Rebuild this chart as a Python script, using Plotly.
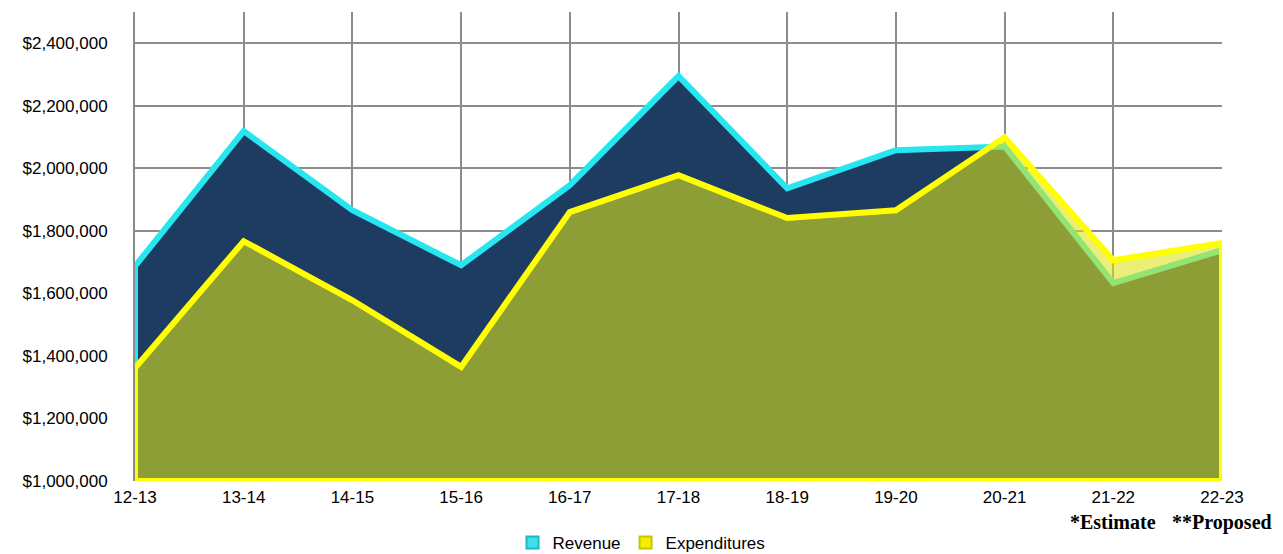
import plotly.graph_objects as go

categories = ["12-13", "13-14", "14-15", "15-16", "16-17", "17-18",
              "18-19", "19-20", "20-21", "21-22", "22-23"]
revenue = [1687000, 2119000, 1866000, 1690000, 1946000, 2295000,
           1936000, 2058000, 2070000, 1633000, 1738000]
expenditures = [1361000, 1767000, 1578000, 1365000, 1860000, 1978000,
                1841000, 1866000, 2099000, 1706000, 1761000]
y_base = 1000000
y_top = 2500000
notes = ["*Estimate", "**Proposed"]
note_categories = ["21-22", "22-23"]

xi = list(range(len(categories)))


def polygon(values):
    xs = xi + xi[::-1] + [xi[0]]
    ys = list(values) + [y_base] * len(values) + [values[0]]
    return xs, ys


fig = go.Figure()

rx, ry = polygon(revenue)
fig.add_trace(go.Scatter(
    x=rx, y=ry, mode="lines", fill="toself",
    fillcolor="#1E3B62", line=dict(color="#28E6F0", width=6),
    showlegend=False, hoverinfo="skip"))

ex, ey = polygon(expenditures)
fig.add_trace(go.Scatter(
    x=ex, y=ey, mode="lines", fill="toself",
    fillcolor="rgba(221,227,26,0.59)", line=dict(color="#FFFF00", width=6),
    showlegend=False, hoverinfo="skip"))

# legend-only entries
fig.add_trace(go.Scatter(
    x=[None], y=[None], mode="markers", name="Revenue",
    marker=dict(symbol="square", size=16, color="#3EE0EA",
                line=dict(color="#1CB8C4", width=1))))
fig.add_trace(go.Scatter(
    x=[None], y=[None], mode="markers", name="Expenditures",
    marker=dict(symbol="square", size=16, color="#F2F000",
                line=dict(color="#C8C400", width=1))))

for note, cat in zip(notes, note_categories):
    fig.add_annotation(
        x=categories.index(cat), y=0, xref="x", yref="paper",
        yshift=-41, text=f"<b>{note}</b>", showarrow=False,
        font=dict(family="Liberation Serif", size=20, color="black"),
        xanchor="center", yanchor="middle")

fig.update_xaxes(
    range=[0, len(categories) - 1],
    tickmode="array", tickvals=xi, ticktext=categories,
    showgrid=True, gridcolor="#8C8C8C", gridwidth=2,
    showline=False, zeroline=False, ticks="",
    ticklabelstandoff=4, automargin=False,
    tickfont=dict(family="Liberation Sans", size=17, color="black"),
)
fig.update_yaxes(
    range=[y_base, y_top], tick0=y_base, dtick=200000,
    tickprefix="$", tickformat=",d",
    showgrid=True, gridcolor="#8C8C8C", gridwidth=2,
    showline=True, linecolor="#8C8C8C", linewidth=2,
    zeroline=False, ticks="", ticklabelstandoff=22, automargin=False,
    tickfont=dict(family="Liberation Sans", size=17, color="black"),
)

fig.update_layout(
    width=1283, height=554,
    margin=dict(l=135, r=61, t=12, b=73),
    plot_bgcolor="white", paper_bgcolor="white",
    showlegend=True,
    legend=dict(orientation="h", xref="container", yref="container",
                x=0.5, xanchor="center", y=0.02, yanchor="middle",
                font=dict(family="Liberation Sans", size=17, color="black"),
                itemsizing="constant", tracegroupgap=0, itemwidth=30),
)

fig.write_html("out.html",
               config={"displayModeBar": False},
               post_script="document.body.style.margin='0px';document.body.style.overflow='hidden';")
